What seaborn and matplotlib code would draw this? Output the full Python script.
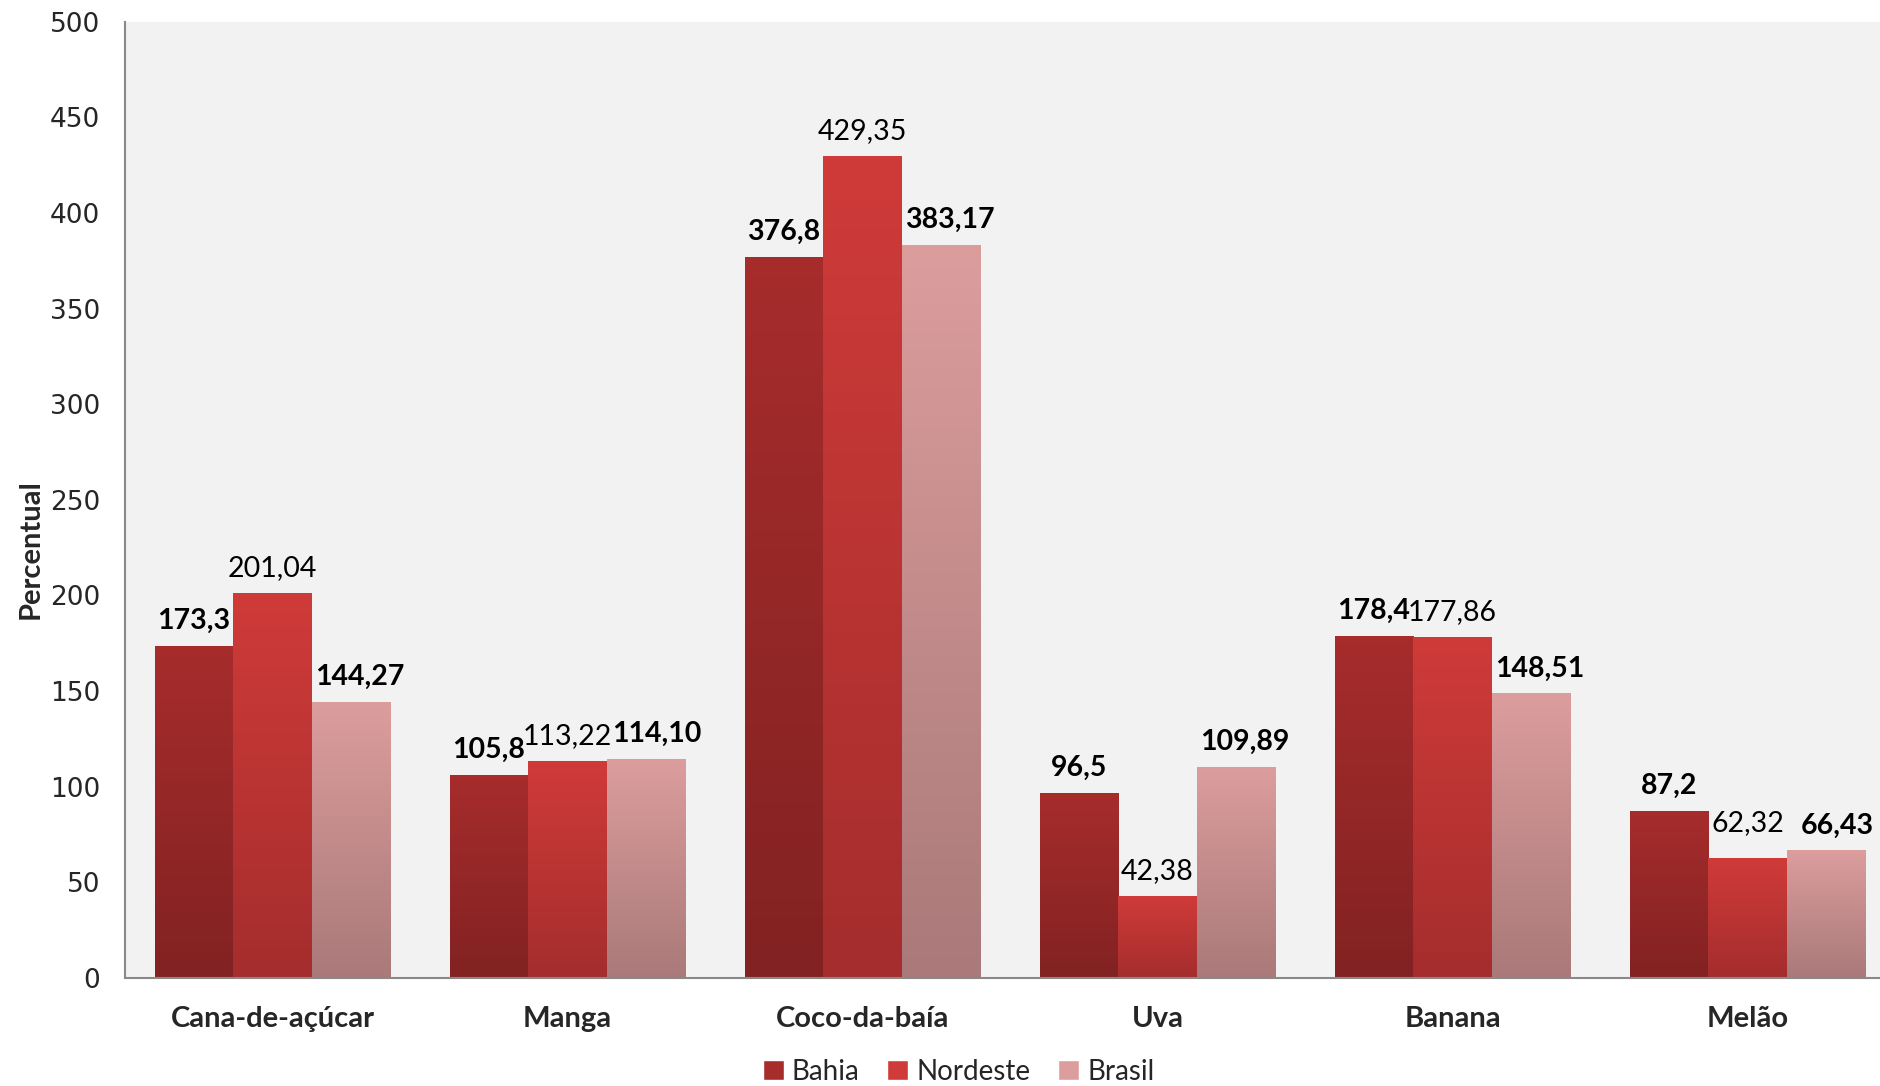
import numpy as np
import pandas as pd
import matplotlib
matplotlib.use("Agg")
import matplotlib.pyplot as plt
import matplotlib.colors as mcolors
from matplotlib.patches import Patch
import seaborn as sns

categories = ["Cana-de-açúcar", "Manga", "Coco-da-baía", "Uva", "Banana", "Melão"]
regions = ["Bahia", "Nordeste", "Brasil"]
bahia = [173.3, 105.8, 376.8, 96.5, 178.4, 87.2]
nordeste = [201.04, 113.22, 429.35, 42.38, 177.86, 62.32]
brasil = [144.27, 114.10, 383.17, 109.89, 148.51, 66.43]

df = pd.DataFrame({
    "cultura": categories * 3,
    "regiao": [r for r in regions for _ in categories],
    "valor": bahia + nordeste + brasil,
})

# top / bottom colour of each bar gradient
top_colors = {"Bahia": "#A72C2C", "Nordeste": "#CF3B39", "Brasil": "#DC9D9D"}
bottom_colors = {"Bahia": "#822222", "Nordeste": "#A52D2D", "Brasil": "#AA7979"}
decimals = {"Bahia": 1, "Nordeste": 2, "Brasil": 2}
weights = {"Bahia": "bold", "Nordeste": "normal", "Brasil": "bold"}

sns.set_style("white")
plt.rcParams["font.family"] = ["Lato", "DejaVu Sans"]

fig = plt.figure(figsize=(18.8, 10.86), dpi=100)
ax = fig.add_axes([125 / 1880, 0.0995, 1770 / 1880, 0.8805])
ax.set_facecolor("#F2F2F2")

sns.barplot(data=df, x="cultura", y="valor", hue="regiao", order=categories,
            hue_order=regions, palette=top_colors, width=0.8, ax=ax,
            legend=False, errorbar=None, linewidth=0)

ax.set_xlim(-0.5, 5.5)
ax.set_ylim(0, 500)

for region, cont in zip(regions, ax.containers):
    cmap = mcolors.LinearSegmentedColormap.from_list(
        region, [bottom_colors[region], top_colors[region]])
    grad = np.linspace(0, 1, 256).reshape(-1, 1)
    for i, bar in enumerate(cont):
        x, w, h = bar.get_x(), bar.get_width(), bar.get_height()
        bar.set_facecolor("none")
        ax.imshow(grad, extent=[x, x + w, 0, h], origin="lower", cmap=cmap,
                  aspect="auto", interpolation="bicubic", zorder=2)
        txt = f"{h:.{decimals[region]}f}".replace(".", ",")
        dx, dy = 0, 9
        if region == "Brasil":
            dx = 6
        if categories[i] == "Melão" and region == "Nordeste":
            dy = 16
        if categories[i] in ("Manga", "Melão") and region == "Brasil":
            dx = 8
        ax.annotate(txt, (x + w / 2, h), xytext=(dx, dy), textcoords="offset points",
                    ha="center", va="bottom", fontsize=20.5,
                    fontweight=weights[region], color="black", zorder=3)

ax.set_xlim(-0.5, 5.5)
ax.set_ylim(0, 500)

ax.set_yticks(np.arange(0, 501, 50))
ax.set_yticklabels([str(v) for v in range(0, 501, 50)], family="DejaVu Sans", fontsize=19)
ax.set_xticks(range(len(categories)))
ax.set_xticklabels(categories, fontsize=21, fontweight="bold")
ax.set_xticks(np.arange(-0.5, 6, 1), minor=True)
ax.tick_params(axis="x", which="major", length=0, pad=20)
ax.tick_params(axis="x", which="minor", length=9, color="#898989", width=1.2, direction="out")
ax.tick_params(axis="y", length=9, color="#898989", width=1.2, direction="out", pad=9)

for s in ["top", "right"]:
    ax.spines[s].set_visible(False)
for s in ["left", "bottom"]:
    ax.spines[s].set_color("#898989")
    ax.spines[s].set_linewidth(1.5)

ax.set_xlabel("")
ax.set_ylabel("Percentual", fontsize=21, fontweight="bold")
ax.yaxis.set_label_coords(-0.046, 0.449)

handles = [Patch(facecolor=top_colors[r], label=r) for r in regions]
fig.legend(handles=handles, loc="lower center", bbox_to_anchor=(0.51, -0.022), ncol=3,
           frameon=False, fontsize=20, handlelength=0.75, handleheight=0.75,
           handletextpad=0.3, columnspacing=1.0)

fig.savefig("out.png", dpi=100, facecolor="white")
